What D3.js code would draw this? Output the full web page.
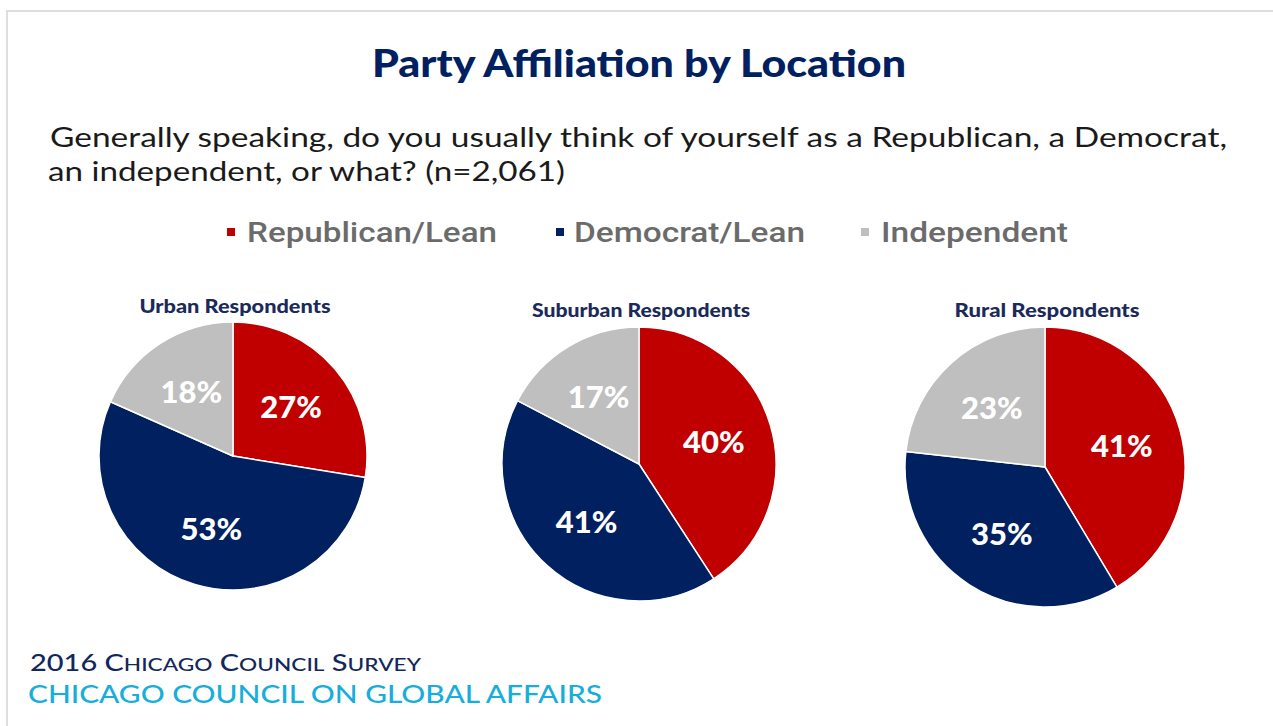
<!DOCTYPE html>
<html>
<head>
<meta charset="utf-8">
<script src="https://cdn.jsdelivr.net/npm/d3@7"></script>
<style>
  html, body { margin: 0; padding: 0; background: #fff; }
  svg { display: block; }
</style>
</head>
<body>
<script>
// Survey groups and party shares (percent)
const groups = ["Urban Respondents", "Suburban Respondents", "Rural Respondents"];
const categories = ["Republican/Lean", "Democrat/Lean", "Independent"];
const republican = [27, 40, 41];
const democrat = [53, 41, 35];
const independent = [18, 17, 23];
const categoryColors = ["#C00000", "#002060", "#BFBFBF"];

const titleText = "Party Affiliation by Location";
const questionLines = [
  "Generally speaking, do you usually think of yourself as a Republican, a Democrat,",
  "an independent, or what? (n=2,061)"
];
const footerLine1 = "2016 Chicago Council Survey";
const footerLine2 = "CHICAGO COUNCIL ON GLOBAL AFFAIRS";

const W = 1273, H = 726;
const svg = d3.select("body").append("svg").attr("width", W).attr("height", H);

// frame lines (top and left)
svg.append("line").attr("x1", 6).attr("x2", W).attr("y1", 11).attr("y2", 11)
  .attr("stroke", "#dedede").attr("stroke-width", 2);
svg.append("line").attr("x1", 7).attr("x2", 7).attr("y1", 10).attr("y2", H)
  .attr("stroke", "#dedede").attr("stroke-width", 2);

// title
svg.append("text")
  .attr("x", 372).attr("y", 77)
  .attr("textLength", 534).attr("lengthAdjust", "spacingAndGlyphs")
  .style("font-family", "Lato, 'Open Sans', sans-serif")
  .style("font-weight", 900).style("font-size", "37px")
  .attr("fill", "#002060")
  .text(titleText);

// question text
const qLayout = [{x: 50, y: 147, w: 1177}, {x: 48, y: 181, w: 517}];
questionLines.forEach((line, i) => {
  svg.append("text")
    .attr("x", qLayout[i].x).attr("y", qLayout[i].y)
    .attr("textLength", qLayout[i].w).attr("lengthAdjust", "spacingAndGlyphs")
    .style("font-family", "Lato, 'Open Sans', sans-serif")
    .style("font-size", "27px")
    .attr("fill", "#1a1a1a")
    .text(line);
});

// legend
const legendLayout = [{sx: 227, tx: 247, w: 250}, {sx: 556, tx: 574, w: 231}, {sx: 861, tx: 881, w: 187}];
const legend = svg.append("g");
categories.forEach((c, i) => {
  legend.append("rect")
    .attr("x", legendLayout[i].sx).attr("y", 228)
    .attr("width", 8).attr("height", 8)
    .attr("fill", categoryColors[i]);
  legend.append("text")
    .attr("x", legendLayout[i].tx).attr("y", 242)
    .attr("textLength", legendLayout[i].w).attr("lengthAdjust", "spacingAndGlyphs")
    .style("font-family", "Roboto, 'Liberation Sans', sans-serif")
    .style("font-weight", 500).style("font-size", "28px")
    .attr("fill", "#6b6b6b")
    .text(c);
});

// pies
const pieLayout = [
  {cx: 233, cy: 456, r: 134, tx: 235, ty: 313, tw: 191},
  {cx: 639, cy: 464, r: 137, tx: 641, ty: 317, tw: 218},
  {cx: 1045, cy: 467, r: 140, tx: 1047, ty: 317, tw: 185}
];

const pie = d3.pie().sort(null).value(d => d.value);

groups.forEach((g, gi) => {
  const L = pieLayout[gi];
  const data = [
    {cat: categories[0], value: republican[gi], color: categoryColors[0]},
    {cat: categories[1], value: democrat[gi], color: categoryColors[1]},
    {cat: categories[2], value: independent[gi], color: categoryColors[2]}
  ];
  const arc = d3.arc().innerRadius(0).outerRadius(L.r);
  const labelArc = d3.arc().innerRadius(L.r * 0.57).outerRadius(L.r * 0.57);

  svg.append("text")
    .attr("x", L.tx).attr("y", L.ty)
    .attr("text-anchor", "middle")
    .attr("textLength", L.tw).attr("lengthAdjust", "spacingAndGlyphs")
    .style("font-family", "Lato, 'Open Sans', sans-serif")
    .style("font-weight", 900).style("font-size", "18px")
    .attr("fill", "#1a2a5a")
    .text(g);

  const pg = svg.append("g").attr("transform", `translate(${L.cx},${L.cy})`);
  const arcs = pie(data);
  pg.selectAll("path").data(arcs).join("path")
    .attr("d", arc)
    .attr("fill", d => d.data.color)
    .attr("stroke", "#fff").attr("stroke-width", 1.5).attr("stroke-linejoin", "round");

  pg.selectAll("text").data(arcs).join("text")
    .attr("transform", d => `translate(${labelArc.centroid(d)})`)
    .attr("text-anchor", "middle")
    .attr("dy", "0.36em")
    .style("font-family", "Lato, 'Open Sans', sans-serif")
    .style("font-weight", 900).style("font-size", "31px")
    .attr("fill", "#fff")
    .text(d => d.data.value + "%");
});

// footer: small-caps style line built from word initials
const f1 = svg.append("text").attr("x", 30).attr("y", 671)
  .attr("textLength", 391).attr("lengthAdjust", "spacingAndGlyphs")
  .style("font-family", "Lato, 'Open Sans', sans-serif")
  .style("font-size", "23px").style("font-weight", 500)
  .attr("fill", "#13285a");
footerLine1.split(" ").forEach((word, i) => {
  const lead = i > 0 ? " " : "";
  if (/^\d/.test(word)) {
    f1.append("tspan").style("font-size", "23px").text(lead + word);
  } else {
    f1.append("tspan").style("font-size", "23px").text(lead + word[0]);
    f1.append("tspan").style("font-size", "18px").text(word.slice(1).toUpperCase());
  }
});

svg.append("text").attr("x", 28).attr("y", 703)
  .attr("textLength", 574).attr("lengthAdjust", "spacingAndGlyphs")
  .style("font-family", "Lato, 'Open Sans', sans-serif")
  .style("font-size", "25px").style("font-weight", 500)
  .attr("fill", "#17aedb")
  .text(footerLine2);
</script>
</body>
</html>
